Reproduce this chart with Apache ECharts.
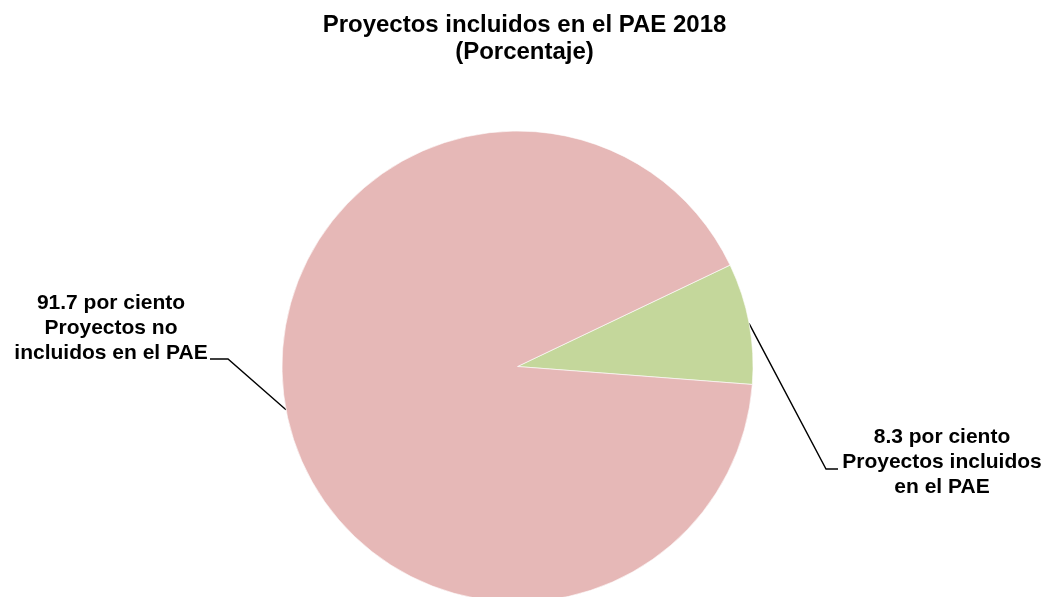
<!DOCTYPE html>
<html>
<head>
<meta charset="utf-8">
<script src="https://cdn.jsdelivr.net/npm/echarts@6/dist/echarts.min.js"></script>
<style>
  html, body { margin: 0; padding: 0; background: #ffffff; }
  #chart { width: 1049px; height: 597px; }
</style>
</head>
<body>
<div id="chart"></div>
<script>
// Share of projects included in the 2018 PAE (percent)
var categories = ['Proyectos incluidos\nen el PAE', 'Proyectos no\nincluidos en el PAE'];
var values = [8.3, 91.7];
var sliceColors = ['#C4D79B', '#E6B8B7'];

var FONT = "'Liberation Sans', Arial, sans-serif";

// Label block placement for each slice: block centre and the elbow/end of its leader line
var labelPlacement = [
  { cx: 942, cy: 462, elbow: [826, 469], end: [838, 469] },
  { cx: 111, cy: 328, elbow: [228, 359], end: [210, 359] }
];

var chart = echarts.init(document.getElementById('chart'), null, { renderer: 'canvas' });

chart.setOption({
  backgroundColor: '#ffffff',
  animation: false,
  title: {
    text: 'Proyectos incluidos en el PAE 2018\n(Porcentaje)',
    left: 'center',
    top: 7,
    textStyle: {
      fontFamily: FONT,
      fontWeight: 'bold',
      fontSize: 24,
      lineHeight: 27,
      color: '#000000'
    }
  },
  series: [{
    type: 'pie',
    center: [517.5, 366.5],
    radius: 235.5,
    startAngle: 25.5,
    clockwise: true,
    avoidLabelOverlap: false,
    data: categories.map(function (name, i) {
      return { name: name, value: values[i], itemStyle: { color: sliceColors[i] } };
    }),
    itemStyle: { borderColor: '#ffffff', borderWidth: 0.6 },
    label: {
      show: true,
      position: 'outside',
      formatter: function (p) { return p.value + ' por ciento\n' + p.name; },
      fontFamily: FONT,
      fontWeight: 'bold',
      fontSize: 21,
      lineHeight: 25,
      color: '#000000',
      align: 'center'
    },
    labelLine: {
      show: true,
      length: 10,
      length2: 10,
      lineStyle: { color: '#000000', width: 1.4 }
    },
    labelLayout: function (params) {
      var pl = labelPlacement[params.dataIndex];
      var start = params.labelLinePoints ? params.labelLinePoints[0] : pl.elbow;
      return {
        x: pl.cx,
        y: pl.cy,
        align: 'center',
        verticalAlign: 'middle',
        labelLinePoints: [start, pl.elbow, pl.end]
      };
    }
  }]
});
</script>
</body>
</html>
